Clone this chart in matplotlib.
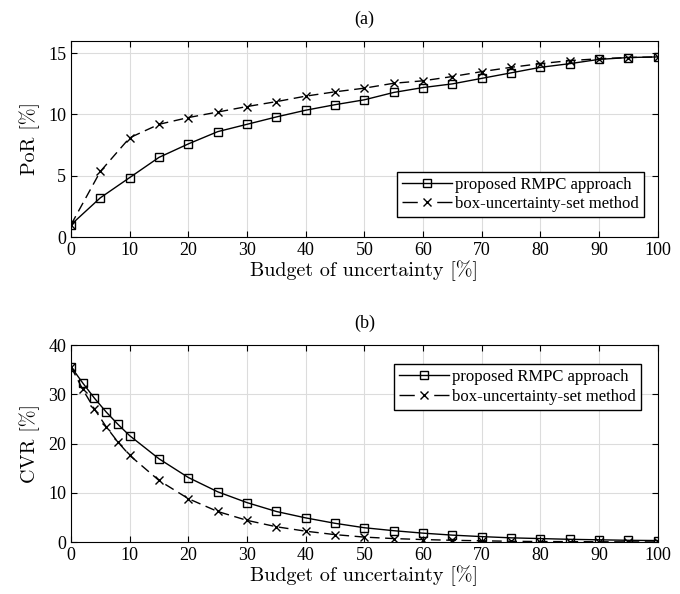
import matplotlib
matplotlib.use("Agg")
import matplotlib.pyplot as plt

plt.rcParams['font.family'] = ['Liberation Serif', 'DejaVu Serif']
plt.rcParams['axes.formatter.use_mathtext'] = False

# (a) price of robustness
budget_a = [0, 5, 10, 15, 20, 25, 30, 35, 40, 45, 50, 55, 60, 65, 70, 75, 80, 85, 90, 95, 100]
por_rmpc = [1.0, 3.2, 4.85, 6.5, 7.6, 8.6, 9.2, 9.8, 10.35, 10.8, 11.2, 11.8, 12.2, 12.5,
            12.95, 13.4, 13.85, 14.15, 14.5, 14.65, 14.7]
por_box = [1.0, 5.35, 8.1, 9.2, 9.75, 10.2, 10.65, 11.05, 11.5, 11.85, 12.15, 12.55, 12.75,
           13.1, 13.5, 13.85, 14.15, 14.4, 14.55, 14.65, 14.7]

# (b) constraint violation rate
budget_b = [0, 2, 4, 6, 8, 10, 15, 20, 25, 30, 35, 40, 45, 50, 55, 60, 65, 70, 75, 80, 85, 90, 95, 100]
cvr_rmpc = [35.6, 32.3, 29.2, 26.4, 23.9, 21.6, 16.9, 13.1, 10.2, 8.0, 6.2, 4.9, 3.8, 2.9,
            2.3, 1.8, 1.4, 1.1, 0.85, 0.7, 0.55, 0.45, 0.35, 0.3]
cvr_box = [35.6, 31.0, 27.0, 23.4, 20.3, 17.6, 12.5, 8.8, 6.2, 4.4, 3.1, 2.2, 1.5, 1.0,
           0.7, 0.5, 0.35, 0.25, 0.15, 0.1, 0.08, 0.05, 0.03, 0.02]

labels = ['proposed RMPC approach', 'box-uncertainty-set method']

fig = plt.figure(figsize=(6.8, 5.94), dpi=100)
ax1 = fig.add_axes([0.1044, 0.601, 0.863, 0.330])
ax2 = fig.add_axes([0.1044, 0.0875, 0.863, 0.3316])

cm = dict(family='cmr10', fontsize=14.5)


def style(ax, ylim, yticks, ylabel, title):
    ax.set_xlim(0, 100)
    ax.set_ylim(*ylim)
    ax.set_xticks(range(0, 101, 10))
    ax.set_yticks(yticks)
    ax.grid(True, color='#dcdcdc', linewidth=0.8)
    ax.set_axisbelow(True)
    ax.tick_params(direction='in', top=True, right=True, labelsize=13, length=4, width=0.8)
    for s in ax.spines.values():
        s.set_linewidth(0.8)
    ax.set_xlabel('Budget of uncertainty [%]', labelpad=1, **cm)
    ax.set_ylabel(ylabel, labelpad=6, **cm)
    ax.set_title(title, fontsize=13, pad=12)


def add_legend(ax, **kw):
    leg = ax.legend(fontsize=12, frameon=True, fancybox=False, edgecolor='black',
                    framealpha=1, borderpad=0.3, labelspacing=0.2, handlelength=3.0,
                    handletextpad=0.2, **kw)
    # dash - marker - dash, like the original legend
    leg.get_lines()[1].set_dashes((11, 14))
    return leg


ax1.plot(budget_a, por_rmpc, '-', color='black', lw=1.0, marker='s', ms=5.5,
         mfc='none', mec='black', mew=1.0, label=labels[0])
ax1.plot(budget_a, por_box, color='black', lw=1.0, dashes=(7, 4), marker='x', ms=6,
         mew=1.0, label=labels[1])
style(ax1, (0, 16), [0, 5, 10, 15], 'PoR [%]', '(a)')
add_legend(ax1, loc='lower right', bbox_to_anchor=(0.99, 0.06))

ax2.plot(budget_b, cvr_rmpc, '-', color='black', lw=1.0, marker='s', ms=5.5,
         mfc='none', mec='black', mew=1.0, label=labels[0])
ax2.plot(budget_b, cvr_box, color='black', lw=1.0, dashes=(7, 4), marker='x', ms=6,
         mew=1.0, label=labels[1])
style(ax2, (0, 40), [0, 10, 20, 30, 40], 'CVR [%]', '(b)')
add_legend(ax2, loc='upper right', bbox_to_anchor=(0.985, 0.945))

fig.savefig('out.png', dpi=100)
